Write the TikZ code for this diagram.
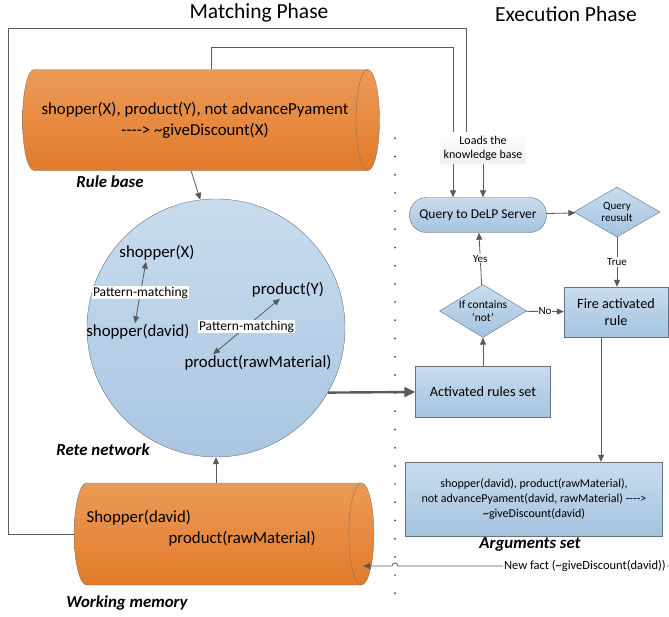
\documentclass[tikz,border=0pt]{standalone}
\usepackage{fontspec}
\setmainfont{Carlito}
\usetikzlibrary{shapes.geometric,arrows.meta}

\definecolor{orangetop}{HTML}{EC9A58}
\definecolor{orangebot}{HTML}{E27B2A}
\definecolor{orangeline}{HTML}{8A6F58}
\definecolor{bluetop}{HTML}{C9DCEE}
\definecolor{bluebot}{HTML}{A5C3E0}
\definecolor{blueline}{HTML}{5F7385}
\definecolor{linegray}{HTML}{5A5A5A}

\begin{document}
\begin{tikzpicture}[x=1pt, y=-1pt, >={Triangle[length=7pt,width=6pt]},
    line/.style = {draw=linegray, line width=0.8pt},
    drum/.style = {draw=orangeline, cylinder, top color=orangetop, bottom color=orangebot, aspect=0.65, inner sep=0pt, anchor=shape center, font=\fontsize{16.8}{21}\selectfont},
    box/.style = {draw=blueline, top color=bluetop, bottom color=bluebot, align=center, inner sep=0pt},
    dia/.style = {box, diamond, aspect=1.7},
    tag/.style = {font=\bfseries\itshape\fontsize{16.8}{20}\selectfont},
    txt/.style = {inner sep=1pt, font=\fontsize{16.8}{20}\selectfont},
    lbl/.style = {fill=white, inner sep=1pt, font=\fontsize{11}{13}\selectfont},
    pm/.style = {lbl, font=\fontsize{13.5}{16}\selectfont}]
\useasboundingbox (0,0) rectangle (669,616);

% phase titles
\node[font=\fontsize{21.5}{26}\selectfont] (t1) at (259,13) {Matching Phase};
\node[font=\fontsize{21.5}{26}\selectfont] (t2) at (566,14) {Execution Phase};

% matching phase
\node[drum, minimum height=357, minimum width=101, align=center] (rb) at (201,120)
    {shopper(X), product(Y), not advancePyament\\-{}-{}-{}-{}> \textasciitilde giveDiscount(X)};
\node[tag] (rbl) at (110,182) {Rule base};
\node[circle, draw=blueline, top color=bluetop, bottom color=bluebot!95!white, minimum size=258, inner sep=0pt] (rete) at (216,328) {};
\node[tag] (rnl) at (103,450) {Rete network};
\node[drum, aspect=0.5, minimum height=295, minimum width=102, align=left, text height=34pt, text depth=16pt] (wm) at (224,534)
    {Shopper(david)\\\hspace*{82pt}product(rawMaterial)\hspace*{33pt}};
\node[tag] (wml) at (127,603) {Working memory};

% inside the rete network
\node[txt] (s1) at (157,253) {shopper(X)};
\node[txt] (s2) at (138,332) {shopper(david)};
\node[txt] (p1) at (288,290) {product(Y)};
\node[txt] (p2) at (258,363) {product(rawMaterial)};
\draw[line, <->] ([xshift=-11]s1.south) -- node[pm] {Pattern-matching} ([xshift=-3]s2.north);
\draw[line, <->] ([xshift=-8]p1.south) -- node[pm] {Pattern-matching} ([xshift=-45]p2.north);

% execution phase
\node[box, rounded corners=17, minimum width=137, minimum height=35, font=\fontsize{13.5}{16}\selectfont] (q) at (478,215) {Query to DeLP Server};
\node[dia, minimum width=86, minimum height=50, font=\fontsize{11}{12.5}\selectfont] (qr) at (617,212) {Query\\reusult};
\node[box, minimum width=104, minimum height=50, font=\fontsize{14.2}{17}\selectfont] (fire) at (616,312) {Fire activated\\rule};
\node[dia, minimum width=87, minimum height=53, font=\fontsize{11.5}{12.5}\selectfont] (ifn) at (483,311) {If contains\\`not'};
\node[box, minimum width=135, minimum height=51, font=\fontsize{14.2}{17}\selectfont] (act) at (483,392) {Activated rules set};
\node[box, minimum width=257, minimum height=74, font=\fontsize{12}{15}\selectfont] (args) at (534,499)
    {shopper(david), product(rawMaterial),\\not advancePyament(david, rawMaterial) -{}-{}-{}-{}>\\\textasciitilde giveDiscount(david)};
\node[tag] (argl) at (530,544) {Arguments set};
\coordinate (wmin) at (363,566);

% separator
\foreach \i in {0,...,25}
    \fill[linegray] (395,138.3+18.2*\i) circle (1.1);

% feedback lines
\draw[line, ->] (wm.west) -| (8,28) -| (466,148) -| ([xshift=5]q.north);
\draw[line, ->] ([xshift=16]rb.north) |- (453,47) -- ([xshift=-25]q.north);
\node[top color=white, bottom color=gray!12, align=center, inner sep=3pt, font=\fontsize{12}{14}\selectfont] (kb) at (483,148) {Loads the\\knowledge base};

% flow edges
\draw[line, ->] ([xshift=-4]rb.south) -- (rete.97);
\draw[line, ->] (rete.south |- wm.north) -- (rete.south);
\draw[line, line width=2.4pt, -{Triangle[length=11pt,width=10pt]}] (rete.-30) -- (act.west);
\draw[line, ->] (act) -- (ifn);
\draw[line, ->] (ifn) -- node[lbl] {Yes} (q);
\draw[line, ->] (ifn) -- node[lbl] {No} (fire);
\draw[line, ->] (q) -- (qr);
\draw[line, ->] (qr.south) -- node[lbl] {True} (qr.south |- fire.north);
\draw[line, ->] ([xshift=-15]fire.south) -- ([xshift=-15]fire.south |- args.north);
\draw[line, ->] (fire.east) -| (690,566) -- node[lbl, pos=0.36, font=\fontsize{12.5}{14}\selectfont] {New fact (\textasciitilde giveDiscount(david))} (398,566)
    arc[start angle=0, end angle=-180, radius=3] -- (wmin);
\end{tikzpicture}
\end{document}
